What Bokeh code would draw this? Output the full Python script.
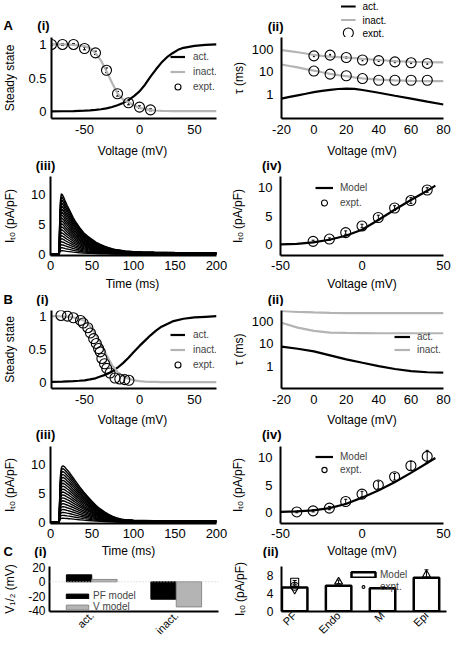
import math
from bokeh.plotting import figure
from bokeh.layouts import row, column
from bokeh.models import (Range1d, FixedTicker, Label, Legend, LegendItem, Span,
                          Whisker, TeeHead, ColumnDataSource)
from bokeh.embed import file_html
from bokeh.resources import INLINE

FONT = "Liberation Sans"
GRAY = "#b4b4b4"

# ---------------- data ----------------
# A(i) steady state
a1_v = [-80, -70, -60, -50, -45, -40, -35, -30, -25, -20, -15, -10, -5, 0, 5, 10, 15, 20, 25, 30, 35, 40, 50, 60, 70]
a1_act = [0.002, 0.004, 0.006, 0.012, 0.017, 0.024, 0.034, 0.048, 0.067, 0.093, 0.127, 0.17, 0.23, 0.3, 0.4,
          0.52, 0.63, 0.73, 0.81, 0.87, 0.92, 0.95, 0.98, 0.995, 1.0]
a1_inact = [1.0, 1.0, 0.995, 0.975, 0.945, 0.87, 0.76, 0.6, 0.43, 0.27, 0.18, 0.14, 0.09, 0.055, 0.035,
            0.022, 0.015, 0.011, 0.008, 0.007, 0.006, 0.005, 0.005, 0.005, 0.005]
a1_ev = [-80, -70, -60, -50, -40, -30, -20, -10, 0, 10]
a1_ess = [1.0, 1.0, 1.0, 0.94, 0.875, 0.615, 0.265, 0.13, 0.065, 0.025]
a1_eerr = [0.015, 0.015, 0.015, 0.02, 0.025, 0.035, 0.035, 0.03, 0.02, 0.015]

# A(ii) time constants
a2_v = [-20, -15, -10, -5, 0, 5, 10, 15, 20, 25, 30, 40, 50, 60, 70, 80]
a2_act = [0.66, 0.78, 0.92, 1.08, 1.27, 1.45, 1.62, 1.76, 1.82, 1.78, 1.58, 1.2, 0.88, 0.66, 0.48, 0.36]
a2_slow = [93, 84, 75, 66, 57, 52, 48, 46, 44, 41, 38, 34, 30.5, 28.5, 27, 26.5]
a2_fast = [21.5, 18.5, 16, 13.5, 11.5, 9.7, 8.3, 7.3, 6.5, 5.8, 5.2, 4.6, 4.2, 4.05, 3.95, 3.9]
a2_ev = [0, 10, 20, 30, 40, 50, 60, 70]
a2_eslow = [52, 56, 44, 34, 32, 28, 25.6, 24]
a2_efast = [11, 8, 6.8, 5.1, 4.3, 4.3, 4.3, 4.3]

# A(iii) current traces
a3_t = [0, 10.5, 11, 12, 13, 14, 16, 18, 20, 22.5, 25, 27.5, 30, 35, 40, 45, 50, 55, 60, 65, 70, 75, 80,
        90, 100, 110, 125, 150, 175, 200]
a3_top = [0, 0, 5.0, 9.0, 10.1, 10.0, 9.5, 8.8, 8.2, 7.5, 6.8, 6.1, 5.5, 4.5, 3.6, 3.0, 2.5, 2.0, 1.65,
          1.35, 1.1, 0.9, 0.75, 0.55, 0.45, 0.4, 0.35, 0.3, 0.28, 0.27]
a3_peaks = [10.1, 9.6, 9.1, 8.6, 8.1, 7.6, 7.1, 6.6, 6.1, 5.6, 5.1, 4.6, 4.1, 3.6, 3.1, 2.6, 2.1, 1.6, 1.1, 0.6]

# A(iv) I-V
a4_v = [-50, -40, -30, -20, -10, 0, 10, 20, 30, 40, 45]
a4_model = [0.03, 0.12, 0.38, 0.85, 1.55, 2.6, 4.3, 6.1, 7.8, 9.4, 10.3]
a4_ev = [-30, -20, -10, 0, 10, 20, 30, 40]
a4_ei = [0.57, 0.97, 2.1, 3.26, 4.74, 6.4, 7.7, 9.54]
a4_eerr = [0.2, 0.2, 0.3, 0.3, 0.4, 0.4, 0.5, 0.4]

# B(i) steady state
b1_v = [-80, -70, -60, -55, -50, -45, -40, -35, -30, -25, -20, -15, -10, -5, 0, 5, 10, 15, 20, 30, 40, 50, 60, 70]
b1_act = [0.005, 0.01, 0.017, 0.023, 0.03, 0.043, 0.06, 0.09, 0.12, 0.16, 0.22, 0.29, 0.37, 0.46, 0.55, 0.63,
          0.71, 0.78, 0.84, 0.92, 0.96, 0.98, 0.99, 1.0]
b1_inact = [1.0, 0.995, 0.98, 0.96, 0.93, 0.85, 0.73, 0.58, 0.41, 0.26, 0.155, 0.09, 0.055, 0.03, 0.018, 0.011,
            0.007, 0.005, 0.003, 0.002, 0.002, 0.002, 0.002, 0.002]
b1_ev = [-71.4, -65.5, -60.1, -53.6, -51.2, -47, -44.6, -41.7, -39.3, -37.2, -35.7, -34.2, -31.8, -29.8,
         -26.8, -22.3, -17.9, -13.4, -9.6]
b1_ess = [1.01, 1.0, 0.975, 0.935, 0.895, 0.825, 0.746, 0.66, 0.587, 0.51, 0.46, 0.36, 0.28, 0.21, 0.14,
          0.065, 0.05, 0.04, 0.03]

# B(ii) time constants
b2_v = [-20, -10, 0, 10, 20, 30, 40, 50, 60, 70, 80]
b2_act = [7.4, 5.9, 4.5, 3.0, 2.0, 1.4, 1.0, 0.74, 0.6, 0.53, 0.51]
b2_slow = [290, 260, 245, 235, 230, 230, 230, 230, 230, 230, 230]
b2_fast = [85, 52, 37, 31, 30, 29.5, 29, 29, 29, 29, 29]

# B(iii) current traces
b3_t = [0, 10.5, 11, 12, 13, 14, 15, 17, 20, 22.5, 25, 27.5, 30, 35, 40, 45, 50, 55, 60, 65, 70, 75, 80,
        85, 90, 100, 125, 150, 200]
b3_top = [0, 0, 4.0, 8.0, 9.3, 9.6, 9.7, 9.5, 9.0, 8.6, 8.1, 7.6, 7.1, 6.1, 5.2, 4.4, 3.6, 2.9, 2.3, 1.8,
          1.35, 1.0, 0.75, 0.55, 0.45, 0.35, 0.3, 0.28, 0.27]
b3_peaks = [9.7, 9.2, 8.7, 8.2, 7.7, 7.2, 6.7, 6.2, 5.7, 5.2, 4.7, 4.2, 3.7, 3.2, 2.7, 2.2, 1.7, 1.2, 0.7]

# B(iv) I-V
b4_v = [-50, -40, -30, -20, -10, 0, 10, 20, 30, 40, 45]
b4_model = [0.1, 0.2, 0.4, 0.8, 1.55, 2.7, 4.0, 5.5, 7.2, 9.0, 9.9]
b4_ev = [-40, -30, -20, -10, 0, 10, 20, 30, 40]
b4_ei = [0.1, 0.3, 0.8, 2.0, 3.35, 5.0, 6.5, 8.5, 10.2]
b4_eerr = [0.15, 0.2, 0.3, 0.4, 0.5, 0.7, 0.6, 0.8, 1.1]

# C(i) half-activation voltages
c1_cats = ["act.", "inact."]
c1_pf = [9.7, -24.2]
c1_vm = [3.3, -34.9]

# C(ii) peak currents
c2_cats = ["PF", "Endo", "M", "Epi"]
c2_model = [5.3, 5.7, 5.15, 7.5]
c2_ecat = [1, 1, 1, 2, 4]
c2_ei = [6.5, 5.6, 4.9, 6.6, 8.2]
c2_eerr = [0.4, 0.3, 0.3, 0.4, 1.1]
c2_emark = ["square", "circle", "inverted_triangle", "triangle", "triangle"]

# ---------------- layout helpers ----------------
TOTAL_W = 452
COLS = [(0, 228), (228, 224)]          # (x0, width)
ROWS = [(37, 103), (174, 101), (306, 103), (443, 100), (558, 85)]   # (y0, height)
BANDS = [(0, 37), (140, 34), (275, 31), (409, 34), (543, 15)]


def R(x):
    """map a reference x of the right-hand column to the layout"""
    return 280 + (x - 285) * 163.0 / 167.0


class Band:
    def __init__(self, y0, h):
        p = figure(width=TOTAL_W, height=h, x_range=Range1d(0, TOTAL_W), y_range=Range1d(y0 + h, y0),
                   output_backend="svg", toolbar_location=None, title=None,
                   x_axis_location=None, y_axis_location=None,
                   min_border_left=0, min_border_right=0, min_border_top=0, min_border_bottom=0)
        p.outline_line_color = None
        for g in list(p.xgrid) + list(p.ygrid):
            g.visible = False
        self.p = p

    def text(self, x, y, t, size=12, bold=False, align="center"):
        self.p.add_layout(Label(x=x, y=y, text=t, text_font=FONT, text_font_size=f"{size}px",
                                text_font_style="bold" if bold else "normal", text_align=align,
                                text_baseline="middle", text_color="black"))


class Pan:
    def __init__(self, frame, ref, col, rw, xr, yr, xticks, yticks, ylog=False, xso=6, yso=5,
                 ytitle=None, yts=8, tick_size=13):
        fl, fr, ft, fb = frame
        x0, w = COLS[col]
        y0, h = ROWS[rw]
        self.frame, self.ref, self.xr, self.yr, self.ylog = frame, ref, xr, yr, ylog
        p = figure(width=w, height=h, x_range=Range1d(*xr), y_range=Range1d(*yr), title=None,
                   y_axis_type="log" if ylog else "linear", output_backend="svg",
                   toolbar_location=None, min_border_left=fl - x0, min_border_right=x0 + w - fr,
                   min_border_top=ft - y0, min_border_bottom=y0 + h - fb)
        p.outline_line_color = None
        p.grid.visible = False
        for ax in (p.xaxis[0], p.yaxis[0]):
            ax.axis_line_width = 2
            ax.axis_line_color = "black"
            ax.major_tick_line_color = None
            ax.minor_tick_line_color = None
            ax.major_tick_out = 0
            ax.major_tick_in = 0
            ax.minor_tick_out = 0
            ax.minor_tick_in = 0
            ax.major_label_text_font = FONT
            ax.major_label_text_font_size = f"{tick_size}px"
            ax.major_label_text_color = "black"
        p.xaxis.ticker = FixedTicker(ticks=xticks)
        p.yaxis.ticker = FixedTicker(ticks=yticks)
        p.xaxis.major_label_overrides = {t: ("%g" % t) for t in xticks}
        p.yaxis.major_label_overrides = {t: ("%g" % t) for t in yticks}
        p.xaxis.major_label_standoff = xso
        p.yaxis.major_label_standoff = yso
        if ytitle:
            p.yaxis.axis_label = ytitle
            p.yaxis.axis_label_text_font = FONT
            p.yaxis.axis_label_text_font_size = "12px"
            p.yaxis.axis_label_text_font_style = "normal"
            p.yaxis.axis_label_text_color = "black"
            p.yaxis.axis_label_standoff = yts
        self.p = p

    def mx(self, x):
        rl, rr, _, _ = self.ref
        fl, fr, _, _ = self.frame
        return fl + (x - rl) * (fr - fl) / (rr - rl)

    def my(self, y):
        _, _, rt, rb = self.ref
        _, _, ft, fb = self.frame
        return ft + (y - rt) * (fb - ft) / (rb - rt)

    def legend(self, items, left, top, pitch, gw, gh, standoff, size=10):
        fl, fr, ft, fb = self.frame
        n = len(items)
        lx, ly = self.mx(left), self.my(top)
        lg = Legend(items=items, location=(int(round(lx - fl)), int(round(fb - (ly + n * pitch)))),
                    orientation="vertical", padding=0, margin=0, spacing=0,
                    glyph_width=int(gw), glyph_height=int(gh), label_height=int(pitch),
                    label_standoff=int(standoff), label_text_font=FONT,
                    label_text_font_size=f"{size}px", border_line_color=None,
                    background_fill_alpha=0)
        self.p.add_layout(lg)


def errbars(p, x, y, err, width=1.0, head=4):
    src = ColumnDataSource(dict(x=x, lo=[a - b for a, b in zip(y, err)], hi=[a + b for a, b in zip(y, err)]))
    p.add_layout(Whisker(base="x", lower="lo", upper="hi", source=src, line_width=width,
                         upper_head=TeeHead(size=head, line_width=width),
                         lower_head=TeeHead(size=head, line_width=width)))


def circles(p, x, y, size=10):
    return p.scatter(x, y, marker="circle", size=size, fill_color=None, line_color="black", line_width=1.1)


ITO = "I\u209c\u2092 (pA/pF)"

# ---------------- A(i) ----------------
A1 = Pan((48, 216, 37, 118), (48, 216, 37, 118), 0, 0, (-80, 70), (-0.104, 1.104), [-50, 0, 50], [0, 0.5, 1],
         ytitle="Steady state", yts=8)
p = A1.p
r_act = p.line(a1_v, a1_act, line_color="black", line_width=2.2)
r_ina = p.line(a1_v, a1_inact, line_color=GRAY, line_width=2.2)
errbars(p, a1_ev, a1_ess, a1_eerr, head=3)
r_exp = circles(p, a1_ev, a1_ess)
A1.legend([LegendItem(label="act.", renderers=[r_act]), LegendItem(label="inact.", renderers=[r_ina]),
           LegendItem(label="expt.", renderers=[r_exp])], 167, 49.5, 15, 15, 15, 8)

# ---------------- A(ii) ----------------
A2 = Pan((280, 443, 37, 118), (285, 452, 37, 118), 1, 0, (-20, 80), (0.086, 340), [-20, 0, 20, 40, 60, 80],
         [1, 10, 100], ylog=True, yso=8, ytitle="\u03c4 (ms)", yts=3)
p = A2.p
r_act2 = p.line(a2_v, a2_act, line_color="black", line_width=2.2)
r_ina2 = p.line(a2_v, a2_slow, line_color=GRAY, line_width=2.2)
p.line(a2_v, a2_fast, line_color=GRAY, line_width=2.2)
errbars(p, a2_ev, a2_eslow, [v * 0.08 for v in a2_eslow], head=2)
r_exp2 = circles(p, a2_ev, a2_eslow)
circles(p, a2_ev, a2_efast)

# ---------------- A(iii) ----------------
A3 = Pan((48, 216, 175, 255), (48, 216, 175, 256), 0, 1, (0, 200), (-0.2, 13), [0, 50, 100, 150, 200],
         [0, 5, 10], xso=5, ytitle=ITO, yts=11)
p = A3.p
xs = [a3_t for _ in a3_peaks]
ys = [[v * pk / a3_top[4] for v in a3_top] for pk in a3_peaks]
p.multi_line(xs, ys, line_color="black", line_width=1.4)

# ---------------- A(iv) ----------------
A4 = Pan((280, 443, 176, 255), (285, 452, 176, 256), 1, 1, (-50, 50), (-1.9, 11.9), [-50, 0, 50], [0, 5, 10],
         xso=5, yso=8, ytitle=ITO, yts=10)
p = A4.p
r_mod4 = p.line(a4_v, a4_model, line_color="black", line_width=2.2)
errbars(p, a4_ev, a4_ei, a4_eerr, head=3)
r_exp4 = circles(p, a4_ev, a4_ei)
A4.legend([LegendItem(label="Model", renderers=[r_mod4]), LegendItem(label="expt.", renderers=[r_exp4])],
          321, 180.5, 15, 18, 15, 7)

# ---------------- B(i) ----------------
B1 = Pan((48, 216, 310, 388), (48, 216, 315, 394), 0, 2, (-80, 70), (-0.094, 1.085), [-50, 0, 50], [0, 0.5, 1],
         xso=6, ytitle="Steady state", yts=8)
p = B1.p
r_bact = p.line(b1_v, b1_act, line_color="black", line_width=2.2)
r_bina = p.line(b1_v, b1_inact, line_color=GRAY, line_width=2.2)
r_bexp = circles(p, b1_ev, b1_ess)
B1.legend([LegendItem(label="act.", renderers=[r_bact]), LegendItem(label="inact.", renderers=[r_bina]),
           LegendItem(label="expt.", renderers=[r_bexp])], 167, 332.5, 15, 15, 15, 8)

# ---------------- B(ii) ----------------
B2 = Pan((280, 443, 309, 388), (285, 452, 314, 394), 1, 2, (-20, 80), (0.1, 300), [-20, 0, 20, 40, 60, 80],
         [1, 10, 100], ylog=True, xso=6, yso=8, ytitle="\u03c4 (ms)", yts=3)
p = B2.p
r_b2a = p.line(b2_v, b2_act, line_color="black", line_width=2.2)
r_b2i = p.line(b2_v, b2_slow, line_color=GRAY, line_width=2.2)
p.line(b2_v, b2_fast, line_color=GRAY, line_width=2.2)
B2.legend([LegendItem(label="act.", renderers=[r_b2a]), LegendItem(label="inact.", renderers=[r_b2i])],
          401, 335.5, 13, 16, 13, 7)

# ---------------- B(iii) ----------------
B3 = Pan((48, 216, 446, 523), (48, 216, 453, 532), 0, 3, (0, 200), (-0.2, 13), [0, 50, 100, 150, 200],
         [0, 5, 10], xso=5, ytitle=ITO, yts=11)
p = B3.p
xs = [b3_t for _ in b3_peaks]
ys = [[v * pk / b3_top[6] for v in b3_top] for pk in b3_peaks]
p.multi_line(xs, ys, line_color="black", line_width=1.4)

# ---------------- B(iv) ----------------
B4 = Pan((280, 443, 446, 523), (285, 452, 453, 532), 1, 3, (-50, 50), (-2.0, 12.0), [-50, 0, 50], [0, 5, 10],
         xso=5, yso=8, ytitle=ITO, yts=10)
p = B4.p
r_mod8 = p.line(b4_v, b4_model, line_color="black", line_width=2.2)
errbars(p, b4_ev, b4_ei, b4_eerr, head=3)
r_exp8 = circles(p, b4_ev, b4_ei)
B4.legend([LegendItem(label="Model", renderers=[r_mod8]), LegendItem(label="expt.", renderers=[r_exp8])],
          321, 457.5, 13, 18, 13, 7)

# ---------------- C(i) ----------------
c1_x = [i + 0.5 for i in range(len(c1_cats))]
C1 = Pan((48, 218, 566, 613), (48, 218, 578, 627), 0, 4, (0, 2), (-41.3, 21.3), c1_x, [-40, -20, 0, 20],
         xso=2, yso=4, ytitle="V\u2081/\u2082 (mV)", yts=8, tick_size=12)
p = C1.p
p.xaxis.major_label_overrides = {x: c for x, c in zip(c1_x, c1_cats)}
p.xaxis.major_label_orientation = math.pi / 4
p.xaxis.major_label_text_font_size = "11px"
p.add_layout(Span(location=0, dimension="width", line_color="#c8c8c8", line_width=1, line_dash="1 2"))
r_pf = p.vbar(x=[x - 0.15 for x in c1_x], width=0.3, top=c1_pf, bottom=0, fill_color="black",
              line_color="black", line_width=1)
r_vm = p.vbar(x=[x + 0.15 for x in c1_x], width=0.3, top=c1_vm, bottom=0, fill_color=GRAY,
              line_color="#8a8a8a", line_width=1)
C1.legend([LegendItem(label="PF model", renderers=[r_pf]), LegendItem(label="V model", renderers=[r_vm])],
          62, 605, 11, 28, 6, 2)

# ---------------- C(ii) ----------------
c2_x = [i + 1 for i in range(len(c2_cats))]
C2 = Pan((281, 446, 565, 614), (286, 455, 577, 628), 1, 4, (0.7, 4.456), (-0.06, 10.04), c2_x, [0, 4, 8],
         xso=2, yso=8, ytitle=ITO, yts=17, tick_size=12)
p = C2.p
p.xaxis.major_label_overrides = {x: c for x, c in zip(c2_x, c2_cats)}
p.xaxis.major_label_orientation = math.pi / 4
p.xaxis.major_label_text_font_size = "11px"
r_mod = p.vbar(x=c2_x, width=0.58, top=c2_model, bottom=0, fill_color="white", line_color="black",
               line_width=2.5)
errbars(p, c2_ecat, c2_ei, c2_eerr, head=4)
src = ColumnDataSource(dict(x=c2_ecat, y=c2_ei, m=c2_emark))
r_e = p.scatter("x", "y", marker="m", source=src, size=8, fill_color=None, line_color="black", line_width=1.1)
C2.legend([LegendItem(label="Model", renderers=[r_mod]), LegendItem(label="expt.", renderers=[r_e], index=1)],
          355, 583, 12, 30, 7, 2)

# ---------------- text bands between the rows ----------------
band0 = Band(*BANDS[0])
band0.text(3, 25, "A", size=13, bold=True, align="left")
band0.text(43, 25, "(i)", size=13, bold=True)
band0.text(R(280), 26, "(ii)", size=13, bold=True)
# legend of A(ii), which sits above its axes
bp = band0.p
lg_y = [6, 19.5, 32.5]
bp.line([R(347), R(362)], [lg_y[0], lg_y[0]], line_color="black", line_width=2.2)
bp.line([R(347), R(362)], [lg_y[1], lg_y[1]], line_color=GRAY, line_width=2.2)
bp.scatter([R(354.5)], [lg_y[2]], marker="circle", size=10, fill_color=None, line_color="black", line_width=1.1)
for yy, t in zip(lg_y, ["act.", "inact.", "expt."]):
    band0.text(R(369), yy, t, size=10, align="left")

band1 = Band(*BANDS[1])
band1.text(132, 150, "Voltage (mV)")
band1.text(361.5, 150, "Voltage (mV)")
band1.text(45, 164.5, "(iii)", size=13, bold=True)
band1.text(R(276), 164.5, "(iv)", size=13, bold=True)

band2 = Band(*BANDS[2])
band2.text(132, 283.5, "Time (ms)")
band2.text(361.5, 283.5, "Voltage (mV)")
band2.text(3, 298.5, "B", size=13, bold=True, align="left")
band2.text(42, 298.5, "(i)", size=13, bold=True)
band2.text(R(280), 298.5, "(ii)", size=13, bold=True)

band3 = Band(*BANDS[3])
band3.text(132, 419, "Voltage (mV)")
band3.text(361.5, 419, "Voltage (mV)")
band3.text(45, 434, "(iii)", size=13, bold=True)
band3.text(R(276), 434, "(iv)", size=13, bold=True)

band4 = Band(*BANDS[4])
band4.text(128, 550.5, "Time (ms)")
band4.text(361.5, 550.5, "Voltage (mV)")
band4.text(3, 550.5, "C", size=13, bold=True, align="left")
band4.text(40, 550.5, "(i)", size=13, bold=True)
band4.text(R(275), 550.5, "(ii)", size=13, bold=True)

layout = column(band0.p, row(A1.p, A2.p, spacing=0), band1.p, row(A3.p, A4.p, spacing=0),
                band2.p, row(B1.p, B2.p, spacing=0), band3.p, row(B3.p, B4.p, spacing=0),
                band4.p, row(C1.p, C2.p, spacing=0), spacing=0)

open("out.html", "w").write(file_html(layout, INLINE))
